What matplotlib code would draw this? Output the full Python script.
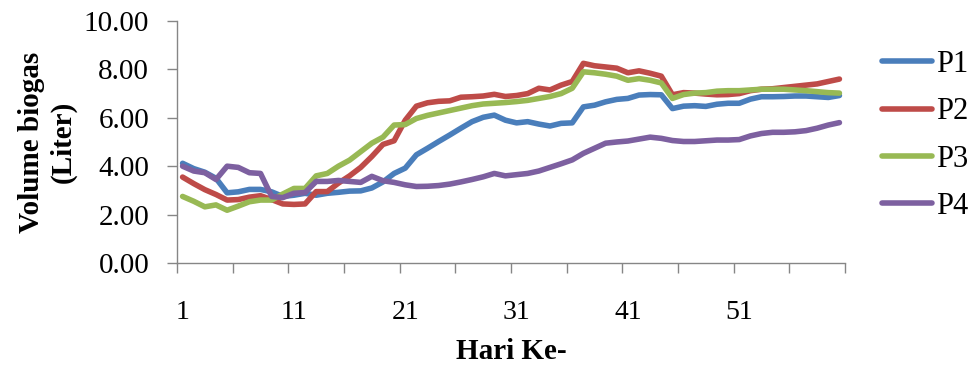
import matplotlib
matplotlib.use('Agg')
import matplotlib.pyplot as plt
from matplotlib.ticker import FormatStrFormatter

# daily biogas volume (liter) for the four treatments
days = list(range(1, 61))

p1 = [4.12, 3.90, 3.75, 3.50, 2.90, 2.94, 3.04, 3.04, 2.94, 2.75,
      2.80, 2.88, 2.80, 2.88, 2.92, 2.97, 2.98, 3.10, 3.35, 3.70,
      3.92, 4.47, 4.74, 5.02, 5.29, 5.57, 5.84, 6.02, 6.11, 5.90,
      5.79, 5.84, 5.74, 5.66, 5.77, 5.79, 6.45, 6.52, 6.66, 6.76,
      6.80, 6.94, 6.96, 6.95, 6.38, 6.48, 6.50, 6.47, 6.56, 6.60,
      6.60, 6.77, 6.87, 6.87, 6.88, 6.90, 6.90, 6.87, 6.84, 6.92]

p2 = [3.55, 3.28, 3.03, 2.83, 2.60, 2.62, 2.72, 2.78, 2.62, 2.44,
      2.42, 2.44, 2.95, 2.95, 3.30, 3.60, 3.95, 4.40, 4.90, 5.05,
      5.90, 6.48, 6.62, 6.68, 6.70, 6.85, 6.87, 6.90, 6.97, 6.88,
      6.92, 7.00, 7.22, 7.15, 7.35, 7.50, 8.25, 8.15, 8.10, 8.05,
      7.86, 7.94, 7.84, 7.72, 6.95, 7.04, 7.02, 6.98, 6.95, 6.96,
      7.00, 7.12, 7.18, 7.20, 7.25, 7.30, 7.35, 7.40, 7.50, 7.60]

p3 = [2.75, 2.55, 2.32, 2.40, 2.18, 2.35, 2.53, 2.60, 2.60, 2.85,
      3.08, 3.08, 3.60, 3.70, 4.00, 4.25, 4.60, 4.95, 5.20, 5.70,
      5.72, 5.97, 6.10, 6.20, 6.30, 6.40, 6.50, 6.57, 6.60, 6.63,
      6.67, 6.72, 6.80, 6.88, 7.00, 7.22, 7.90, 7.86, 7.80, 7.72,
      7.55, 7.62, 7.55, 7.44, 6.80, 6.96, 7.02, 7.04, 7.10, 7.12,
      7.12, 7.15, 7.18, 7.18, 7.18, 7.15, 7.12, 7.08, 7.04, 7.02]

p4 = [4.00, 3.80, 3.73, 3.45, 4.00, 3.95, 3.73, 3.70, 2.75, 2.70,
      2.88, 2.91, 3.37, 3.37, 3.41, 3.37, 3.33, 3.58, 3.40, 3.33,
      3.23, 3.16, 3.17, 3.20, 3.26, 3.35, 3.45, 3.56, 3.70, 3.60,
      3.65, 3.70, 3.80, 3.95, 4.10, 4.26, 4.53, 4.74, 4.95, 5.00,
      5.04, 5.12, 5.20, 5.15, 5.06, 5.02, 5.02, 5.05, 5.08, 5.08,
      5.10, 5.25, 5.35, 5.40, 5.40, 5.42, 5.47, 5.57, 5.70, 5.80]

labels = ['P1', 'P2', 'P3', 'P4']
colors = ['#4a7ebb', '#be4b48', '#98b954', '#7d60a0']
label_days = [1, 11, 21, 31, 41, 51]

plt.rcParams['font.family'] = ['Liberation Serif', 'DejaVu Serif']

fig = plt.figure(figsize=(9.78, 3.65), dpi=100)
ax = fig.add_axes([0.181, 0.2795, 0.683, 0.663])

for vals, lab, col in zip([p1, p2, p3, p4], labels, colors):
    ax.plot(days, vals, color=col, lw=4, label=lab,
            solid_joinstyle='round', solid_capstyle='round')

ax.set_xlim(0.5, 60.5)
ax.set_ylim(0, 10)
ax.set_yticks([0, 2, 4, 6, 8, 10])
ax.yaxis.set_major_formatter(FormatStrFormatter('%.2f'))

# category labels every 10 days, tick marks between categories every 5
ax.set_xticks(label_days)
ax.set_xticks([0.5 + 5 * i for i in range(13)], minor=True)
ax.tick_params(axis='x', which='major', length=0, pad=27, labelsize=20)
ax.tick_params(axis='x', which='minor', length=7, width=1, color='#868686',
               direction='out')
ax.tick_params(axis='y', length=7, width=1, color='#868686', direction='out',
               pad=13, labelsize=21)

for s in ['top', 'right']:
    ax.spines[s].set_visible(False)
for s in ['left', 'bottom']:
    ax.spines[s].set_color('#868686')
    ax.spines[s].set_linewidth(1)

ax.set_ylabel('Volume biogas\n(Liter)', fontsize=21, fontweight='bold',
              linespacing=1.2)
ax.yaxis.set_label_coords(-0.15, 0.5)
ax.set_xlabel('Hari Ke-', fontsize=21, fontweight='bold')
ax.xaxis.set_label_coords(0.5, -0.31)

fig.legend(loc='upper left', bbox_to_anchor=(882 / 978, 1 - 50 / 365),
           frameon=False, fontsize=22, handlelength=1.63, handletextpad=0.15,
           labelspacing=0.6, borderpad=0, borderaxespad=0)

fig.savefig('out.png', dpi=100)
